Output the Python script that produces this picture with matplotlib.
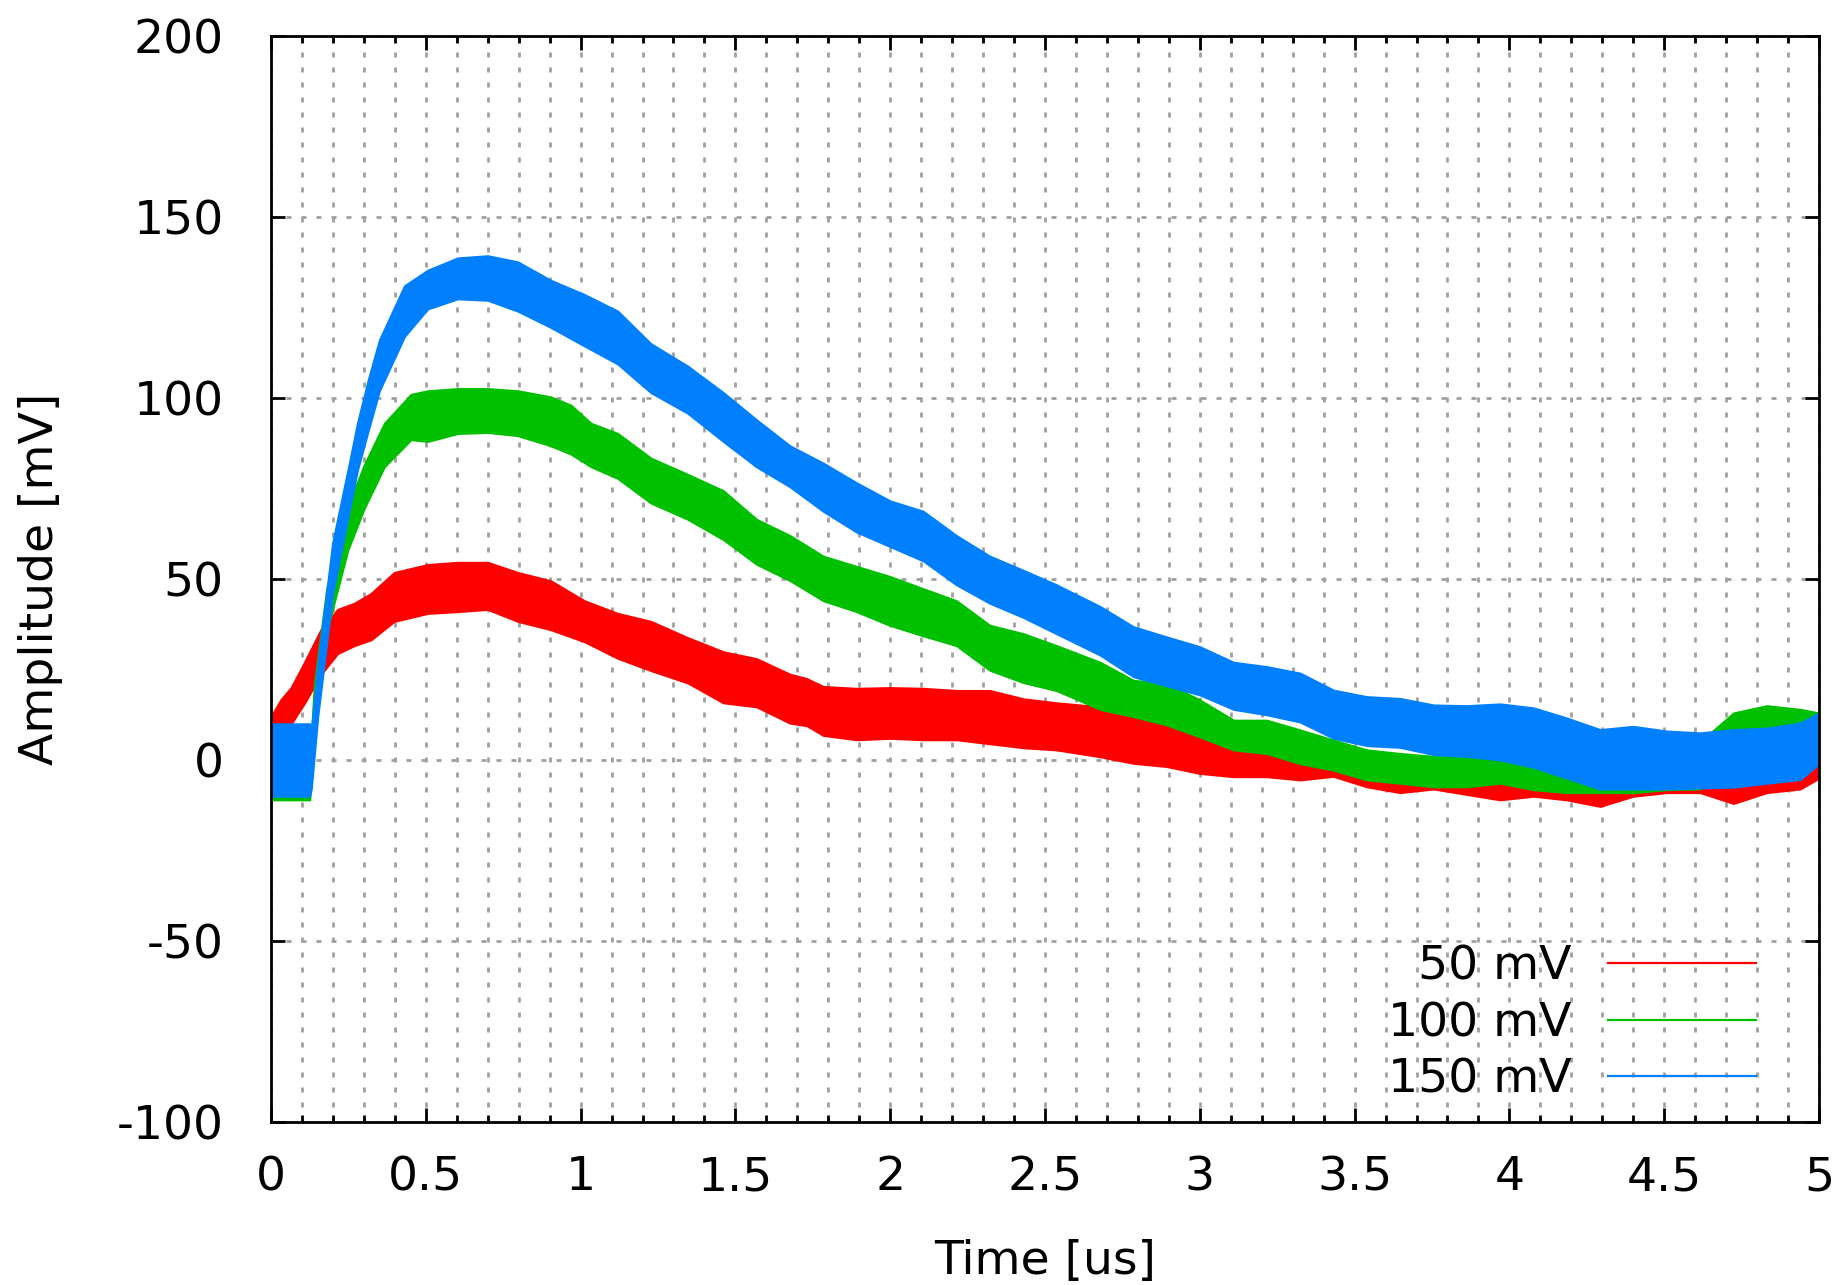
import matplotlib
matplotlib.use("Agg")
import matplotlib.pyplot as plt
from matplotlib.lines import Line2D
from matplotlib.ticker import MultipleLocator, FuncFormatter

plt.rcParams['font.family'] = ['DejaVu Sans']
plt.rcParams['axes.unicode_minus'] = False

# ---------------- data ----------------
series_labels = ["50 mV", "100 mV", "150 mV"]
series_colors = ["#ff0000", "#00c000", "#0080ff"]

# 50 mV trace: time [us], lower / upper edge of the noisy band [mV]
t_50 = [0.0, 0.032, 0.065, 0.108, 0.161, 0.215, 0.269, 0.323, 0.398, 0.506,
        0.603, 0.70, 0.797, 0.904, 1.012, 1.12, 1.227, 1.346, 1.461, 1.568,
        1.676, 1.73, 1.784, 1.891, 1.999, 2.107, 2.214, 2.322, 2.43, 2.537,
        2.678, 2.786, 2.893, 3.0, 3.109, 3.216, 3.324, 3.432, 3.539, 3.647,
        3.755, 3.97, 4.078, 4.185, 4.293, 4.40, 4.508, 4.616, 4.724, 4.831,
        4.939, 5.0]
lo_50 = [2, 7.9, 10, 15.7, 23.6, 29.4, 31.6, 33.2, 38.3, 40.5,
         41, 41.6, 38.3, 36, 32.7, 28.1, 24.7, 21.3, 15.8, 14.7,
         10.2, 9.5, 6.8, 5.6, 6, 5.6, 5.6, 4.5, 3.4, 2.8,
         0.9, -0.9, -1.8, -3.7, -4.6, -4.6, -5.5, -4.5, -7.4, -9,
         -8, -11, -10, -11, -12.8, -10, -9, -9, -12, -9,
         -8, -5]
hi_50 = [12, 16.7, 20, 27, 36, 41.6, 43.3, 46, 51.8, 54,
         54.6, 54.6, 51.8, 49.5, 44, 40.5, 38.3, 33.8, 29.9, 28,
         23.7, 22.5, 20.3, 19.8, 20, 19.8, 19.2, 19.2, 16.9, 15.8,
         14.7, 12.9, 10.1, 6.4, 5.5, 6.4, 3.7, 2.5, 0, 1,
         1, -3.7, -2, -3, -2, 2, 3, 3, 1, 3,
         4, 2]

# 100 mV trace
t_100 = [0.0, 0.12, 0.125, 0.14, 0.18, 0.248, 0.301, 0.366, 0.452, 0.506,
         0.603, 0.70, 0.797, 0.904, 0.969, 1.034, 1.12, 1.227, 1.346, 1.461,
         1.568, 1.676, 1.784, 1.891, 1.999, 2.107, 2.214, 2.322, 2.43, 2.537,
         2.678, 2.786, 2.893, 3.0, 3.109, 3.216, 3.324, 3.432, 3.539, 3.647,
         3.755, 3.862, 3.97, 4.078, 4.185, 4.293, 4.40, 4.508, 4.616, 4.724,
         4.831, 4.939, 5.0]
lo_100 = [-11, -11, -11, 9, 35.5, 58, 69.5, 81, 88.5, 88,
          90.2, 90.5, 89.6, 86.8, 84.5, 81, 77.8, 71, 66.5, 60.9,
          54.1, 49.6, 44, 41, 37.2, 34.3, 31.6, 24.8, 21.4, 19.2,
          14, 12, 9.7, 6.4, 2.8, 1.8, -1, -2.8, -5.5, -6.4,
          -7.4, -7.4, -6.4, -8.2, -9, -9, -9, -8.2, -8, 0,
          3, 2, 1]
hi_100 = [-3, -3, -1, 21, 47.5, 70, 81.5, 93, 101, 102,
          102.6, 102.6, 102, 100.3, 98, 93, 90.2, 83.4, 78.9, 74.4,
          66.5, 62, 56.3, 53.5, 50.7, 47.3, 44, 37.2, 34.9, 31.6,
          27, 22, 21.2, 16.6, 11, 11, 8.3, 5.5, 2.8, 1.8,
          1, 1.8, 1, 1, 0, 1, 2, 4, 5, 13,
          15, 14, 13]

# 150 mV trace
t_150 = [0.0, 0.125, 0.13, 0.151, 0.199, 0.253, 0.279, 0.314, 0.35, 0.431,
         0.506, 0.603, 0.70, 0.797, 0.904, 1.012, 1.12, 1.227, 1.346, 1.461,
         1.568, 1.676, 1.784, 1.891, 1.999, 2.107, 2.214, 2.322, 2.43, 2.537,
         2.678, 2.786, 2.893, 3.0, 3.109, 3.216, 3.324, 3.432, 3.539, 3.647,
         3.755, 3.862, 3.97, 4.078, 4.185, 4.293, 4.40, 4.508, 4.616, 4.724,
         4.831, 4.939, 5.0]
lo_150 = [-10, -10, -8, 12, 46, 69, 80, 91, 102, 117,
          124.6, 127.4, 127, 124, 119.5, 114.4, 109.4, 101.5, 95.8, 88,
          81, 75.5, 68.7, 63, 59, 55, 48.4, 43.3, 39.4, 34.9,
          29, 23, 20.5, 18, 14, 12.5, 10.5, 6, 4, 3.5,
          1.5, 1, 0, -2, -5, -8, -8, -8, -7.7, -7.5,
          -6.4, -5.4, -1]
hi_150 = [10, 10, 8, 26, 60, 82, 93, 105, 116, 131,
          135.3, 138.7, 139.3, 137.6, 132.5, 128.6, 124, 115, 108.8, 101.5,
          94, 86.8, 82, 76.6, 71.6, 68.7, 62, 56.3, 52.4, 48.4,
          42.4, 36.8, 34, 31.3, 27, 25.8, 24, 19.3, 17.5, 17,
          15.2, 15, 15.5, 14.4, 11.6, 8.4, 9.3, 8, 7.5, 8.4,
          8.8, 10.2, 13]

times = [t_50, t_100, t_150]
lows = [lo_50, lo_100, lo_150]
highs = [hi_50, hi_100, hi_150]

x_label = "Time [us]"
y_label = "Amplitude [mV]"

# ---------------- figure ----------------
W, H = 1839, 1285
fig = plt.figure(figsize=(W / 100, H / 100), dpi=100)
ax = fig.add_axes([271 / W, (H - 1122) / H, 1548 / W, 1086 / H])

FS = 34
for t, lo, hi, c in zip(times, lows, highs, series_colors):
    ax.fill_between(t, lo, hi, color=c, linewidth=1.5, edgecolor=c, zorder=3)

ax.set_xlim(0, 5)
ax.set_ylim(-100, 200)
ax.xaxis.set_major_locator(MultipleLocator(0.5))
ax.xaxis.set_minor_locator(MultipleLocator(0.1))
ax.yaxis.set_major_locator(MultipleLocator(50))
fmt = FuncFormatter(lambda v, _: f"{v:g}")
ax.xaxis.set_major_formatter(fmt)
ax.yaxis.set_major_formatter(fmt)

ax.tick_params(axis='both', which='both', direction='in', top=True, right=True,
               width=2, colors='black')
ax.tick_params(axis='x', which='major', length=10, labelsize=FS, pad=24)
ax.tick_params(axis='x', which='minor', length=5)
ax.tick_params(axis='y', which='major', length=10, labelsize=FS, pad=34)

for s in ax.spines.values():
    s.set_linewidth(2)
    s.set_zorder(5)

grid_kw = dict(color='#a0a0a0', linewidth=2, linestyle=(0, (1.8, 3.6)), zorder=1)
ax.set_axisbelow(True)
ax.xaxis.grid(True, which='both', **grid_kw)
ax.yaxis.grid(True, which='major', **grid_kw)

ax.set_xlabel(x_label, fontsize=FS)
ax.set_ylabel(y_label, fontsize=FS)
ax.xaxis.set_label_coords(0.5, -0.128)
ax.xaxis.label.set_va('center')
ax.yaxis.set_label_coords(-0.149, 0.5)
ax.yaxis.label.set_va('center')

handles = [Line2D([], [], color=c, linewidth=1.6) for c in series_colors]
ax.legend(handles, series_labels, loc='lower right', bbox_to_anchor=(0.959, 0.018),
          frameon=False, markerfirst=False, fontsize=FS, handlelength=3.13,
          handletextpad=0.76, labelspacing=0.24, borderaxespad=0, borderpad=0)

fig.savefig("out.png", dpi=100)
